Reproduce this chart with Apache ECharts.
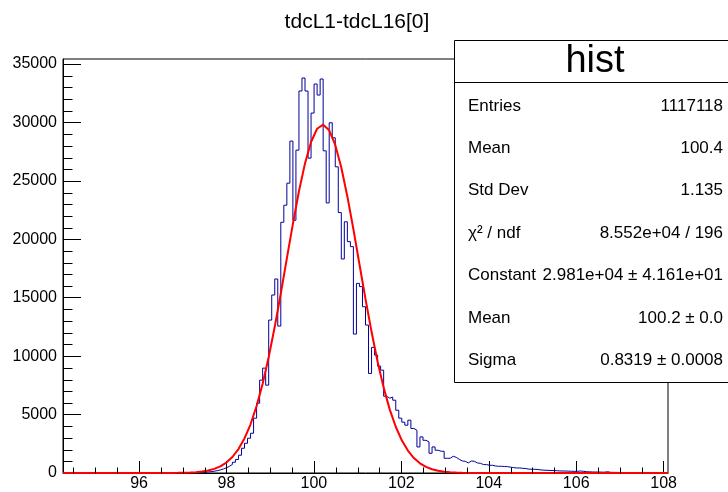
<!DOCTYPE html>
<html><head><meta charset="utf-8">
<script src="https://cdn.jsdelivr.net/npm/echarts@6/dist/echarts.min.js"></script>
<style>html,body{margin:0;padding:0;background:#fff}#c{width:728px;height:492px}</style>
</head><body><div id="c"></div>
<script>
const chartTitle = 'tdcL1-tdcL16[0]';
const binLow = 94.26;
const binHigh = 108.1;
const binCounts = [
  0,0,0,1,0,0,1,0,1,1,
  0,1,1,0,1,1,2,1,1,2,
  2,1,2,3,2,3,3,4,5,4,
  5,6,6,7,8,9,10,12,14,16,
  19,23,28,35,42,55,70,90,115,150,
  200,260,340,440,570,730,920,1150,1520,2117,
  2546,2974,3403,4689,5974,7946,8974,7517,13088,15231,
  16603,12574,21460,22917,24803,28403,21631,27631,32689,33803,
  32689,26946,30803,33289,32346,33717,27574,23117,29974,28689,
  26203,22286,18317,21500,19800,19370,11890,16230,15950,14230,
  12660,8520,10750,10090,9150,8800,6570,6400,6500,6230,
  5370,4690,4350,4090,4520,3810,3660,2230,3090,2800,
  2660,1690,2230,1950,1860,1860,1260,1260,1430,1340,
  1170,1030,1000,860,1030,1000,860,830,720,720,
  660,660,600,574,574,560,540,500,460,430,
  430,400,380,330,320,317,300,260,240,231,
  220,210,200,180,171,171,160,150,140,140,
  170,150,110,100,90,85,80,75,70,110,
  60,55,52,48,45,42,40,36,34,30,
  28,26,24,22,20,19,17,16,15,14
];
// fit curve (gaus) sampled at 100 steps over the axis range; values at steps 18..68
const fitNpx = 100;
const fitFirstIndex = 18;
const fitValues = [
  5.5,10.8,20.7,38.5,69.7,123,211,351,567,895,
  1369,2044,2960,4170,5730,7638,9924,12520,15358,18363,
  21324,24110,26495,28326,29464,29807,29330,28078,26146,23669,
  20858,17862,14893,12082,9518,7306,5446,3956,2796,1917,
  1282,831,526,324,193,112,63,35,19,10,5
];
const xMajorTicks = [96,98,100,102,104,106,108];
const xMinorTicks = [94.5,95,95.5,96.5,97,97.5,98.5,99,99.5,100.5,101,101.5,102.5,103,103.5,104.5,105,105.5,106.5,107,107.5];
const yMax = 35430;
const yMajorTicks = [0,5000,10000,15000,20000,25000,30000,35000];
const yMinorTicks = [1000,2000,3000,4000,6000,7000,8000,9000,11000,12000,13000,14000,16000,17000,18000,19000,21000,22000,23000,24000,26000,27000,28000,29000,31000,32000,33000,34000];
const statsTitle = 'hist';
const statLabels = ['Entries','Mean','Std Dev','\u03c7\u00b2 / ndf','Constant','Mean','Sigma'];
const statValues = ['1117118','100.4','1.135','8.552e+04 / 196','2.981e+04 \u00b1 4.161e+01','100.2 \u00b1 0.0','0.8319 \u00b1 0.0008'];

const FONT = '"Liberation Sans", Arial, Helvetica, sans-serif';
const binW = (binHigh - binLow) / binCounts.length;
const histData = binCounts.map((c, k) => [binLow + k * binW, c]);
histData.push([binHigh, binCounts[binCounts.length - 1]]);
const fitStep = (binHigh - binLow) / fitNpx;
const fitData = [];
for (let i = 0; i <= fitNpx; i++) {
  const j = i - fitFirstIndex;
  fitData.push([binLow + i * fitStep, (j >= 0 && j < fitValues.length) ? fitValues[j] : 0]);
}

const chart = echarts.init(document.getElementById('c'), null, {renderer: 'canvas'});

function tickSeries(data, horizontal, len) {
  return {
    type: 'custom', silent: true, clip: false, z: 5,
    data: data,
    renderItem: function (params, api) {
      const p = api.coord([api.value(0), api.value(1)]);
      const x = Math.round(p[0]) + 0.5, y = Math.round(p[1]) + 0.5;
      return {
        type: 'line',
        shape: horizontal ? {x1: x, y1: y, x2: x + len, y2: y} : {x1: x, y1: y, x2: x, y2: y - len},
        style: {stroke: '#000', lineWidth: 1}
      };
    }
  };
}

const statsGraphics = [];
const boxL = 454, boxT = 40, boxB = 382, sepY = 82;
statsGraphics.push({type: 'rect', z: 100, shape: {x: boxL + 0.5, y: boxT + 0.5, width: 300, height: boxB - boxT}, style: {fill: '#fff', stroke: '#000', lineWidth: 1}});
statsGraphics.push({type: 'line', z: 101, shape: {x1: boxL, y1: sepY + 0.5, x2: 728, y2: sepY + 0.5}, style: {stroke: '#000', lineWidth: 1}});
statsGraphics.push({type: 'text', z: 101, style: {text: statsTitle, x: 595, y: 62, fontSize: 38, fontFamily: FONT, align: 'center', verticalAlign: 'middle', fill: '#000'}});
statLabels.forEach((lab, i) => {
  const y = 106 + i * 42.4;
  statsGraphics.push({type: 'text', z: 101, style: {text: lab, x: 468, y: y, fontSize: 17, fontFamily: FONT, align: 'left', verticalAlign: 'middle', fill: '#000'}});
  statsGraphics.push({type: 'text', z: 101, style: {text: statValues[i], x: 723, y: y, fontSize: 17, fontFamily: FONT, align: 'right', verticalAlign: 'middle', fill: '#000'}});
});

chart.setOption({
  animation: false,
  backgroundColor: '#fff',
  grid: {left: 63, top: 59, width: 605, height: 414, show: true, borderColor: '#000', borderWidth: 1, backgroundColor: 'transparent'},
  xAxis: {
    type: 'value', min: binLow, max: binHigh,
    axisLine: {show: true, lineStyle: {color: '#000', width: 1}},
    axisTick: {show: true, inside: true, length: 12, customValues: xMajorTicks, lineStyle: {color: '#000'}},
    axisLabel: {customValues: xMajorTicks, color: '#000', fontSize: 16, fontFamily: FONT, margin: 3, formatter: v => String(v)},
    splitLine: {show: false}
  },
  yAxis: {
    type: 'value', min: 0, max: yMax,
    axisLine: {show: true, lineStyle: {color: '#000', width: 1}},
    axisTick: {show: true, inside: true, length: 18, customValues: yMajorTicks, lineStyle: {color: '#000'}},
    axisLabel: {customValues: yMajorTicks, color: '#000', fontSize: 16, fontFamily: FONT, margin: 6, formatter: v => String(v)},
    splitLine: {show: false}
  },
  series: [
    {type: 'line', data: histData, step: 'end', symbol: 'none', z: 3, lineStyle: {color: '#000099', width: 1}, silent: true},
    {type: 'line', data: fitData, symbol: 'none', z: 4, lineStyle: {color: '#ff0000', width: 2}, silent: true},
    tickSeries(xMinorTicks.map(v => [v, 0]), false, 6),
    tickSeries(yMinorTicks.map(v => [binLow, v]), true, 9)
  ],
  graphic: [{type: 'text', z: 100, style: {text: chartTitle, x: 357, y: 22, fontSize: 21, fontFamily: FONT, align: 'center', verticalAlign: 'middle', fill: '#000'}}].concat(statsGraphics)
});
</script></body></html>
